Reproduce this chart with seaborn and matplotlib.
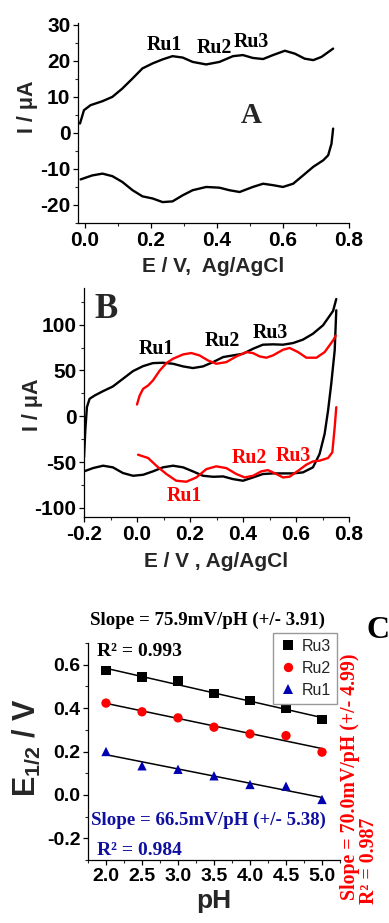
import numpy as np
import pandas as pd
import matplotlib
matplotlib.use("Agg")
import matplotlib.pyplot as plt
from matplotlib.ticker import AutoMinorLocator, MultipleLocator
import seaborn as sns

# ---------------- data ----------------
# Panel A (CV, single scan)
a_fwd_E = [-0.014, -0.002, 0.018, 0.054, 0.084, 0.114, 0.145, 0.175, 0.206, 0.236, 0.266,
           0.297, 0.327, 0.368, 0.408, 0.449, 0.479, 0.509, 0.540, 0.570, 0.606, 0.636,
           0.666, 0.692, 0.717, 0.752]
a_fwd_I = [2.6, 6.3, 7.7, 8.8, 10.0, 12.3, 15.1, 17.9, 19.3, 20.4, 21.3,
           20.9, 19.7, 19.0, 19.7, 21.3, 21.6, 20.8, 20.5, 21.6, 22.8, 22.0,
           20.6, 20.2, 21.1, 23.4]
a_rev_E = [0.752, 0.747, 0.737, 0.722, 0.692, 0.661, 0.631, 0.600, 0.570, 0.540, 0.509,
           0.469, 0.438, 0.408, 0.368, 0.327, 0.297, 0.266, 0.236, 0.206, 0.175, 0.145,
           0.114, 0.084, 0.054, 0.023, -0.012]
a_rev_I = [1.2, -3.0, -6.2, -7.6, -9.4, -11.8, -14.1, -15.0, -14.5, -14.1, -15.0,
           -16.4, -15.9, -15.2, -15.0, -15.9, -17.3, -19.0, -19.2, -18.2, -17.6, -15.9,
           -13.6, -12.0, -11.3, -11.8, -12.9]

# Panel B (black: wide window, red: narrow window)
b_blk_fwd_E = [-0.200, -0.195, -0.189, -0.179, -0.160, -0.128, -0.091, -0.053, -0.015, 0.023,
               0.060, 0.098, 0.136, 0.174, 0.211, 0.249, 0.287, 0.325, 0.362, 0.400, 0.438,
               0.475, 0.513, 0.551, 0.589, 0.626, 0.664, 0.702, 0.740, 0.752]
b_blk_fwd_I = [-45.0, -15.0, 9.9, 19.0, 22.6, 27.4, 32.5, 40.9, 49.3, 54.7,
               58.0, 58.4, 57.3, 54.4, 52.6, 54.4, 59.1, 64.6, 66.4, 68.2, 73.7,
               78.1, 78.5, 78.1, 79.9, 83.6, 90.1, 99.3, 115.0, 128.0]
b_blk_rev_E = [0.752, 0.746, 0.733, 0.721, 0.708, 0.689, 0.664, 0.626, 0.589, 0.551, 0.513,
               0.475, 0.438, 0.400, 0.362, 0.325, 0.287, 0.249, 0.211, 0.174, 0.136, 0.098,
               0.060, 0.023, -0.015, -0.053, -0.091, -0.128, -0.166, -0.200]
b_blk_rev_I = [115.7, 71.9, 35.4, 6.2, -19.3, -41.2, -55.8, -61.3, -62.4, -62.4, -62.4,
               -63.1, -66.8, -70.4, -68.6, -65.7, -66.1, -65.0, -60.2, -55.8, -54.0, -55.8,
               -60.2, -63.9, -65.0, -62.0, -55.8, -54.0, -56.6, -60.2]
b_red_fwd_E = [0.000, 0.010, 0.023, 0.042, 0.060, 0.086, 0.111, 0.136, 0.174, 0.205, 0.236,
               0.268, 0.299, 0.337, 0.375, 0.413, 0.438, 0.463, 0.488, 0.513, 0.551, 0.576,
               0.608, 0.639, 0.677, 0.708, 0.740, 0.750]
b_red_fwd_I = [12.8, 22.6, 29.9, 33.6, 39.0, 50.0, 58.0, 62.8, 67.5, 69.0, 66.4,
               60.9, 57.3, 59.1, 65.3, 70.0, 68.9, 65.3, 63.9, 66.4, 72.6, 74.5,
               70.0, 63.9, 63.9, 70.0, 82.8, 88.0]
b_red_rev_E = [0.752, 0.746, 0.737, 0.721, 0.689, 0.664, 0.639, 0.608, 0.576, 0.551, 0.526,
               0.494, 0.469, 0.438, 0.406, 0.375, 0.337, 0.299, 0.262, 0.224, 0.186, 0.148,
               0.111, 0.073, 0.042, 0.004]
b_red_rev_I = [9.9, -12.0, -39.4, -45.6, -48.5, -49.3, -52.9, -59.5, -66.0, -66.8, -63.1,
               -58.8, -60.2, -65.0, -66.8, -63.1, -56.6, -54.7, -57.7, -66.8, -71.5, -70.4,
               -63.1, -54.0, -45.6, -42.0]

# Panel C (E1/2 vs pH)
ph_values = [2.0, 2.5, 3.0, 3.5, 4.0, 4.5, 5.0]
ru3_E = [0.574, 0.543, 0.525, 0.466, 0.435, 0.400, 0.346]
ru2_E = [0.423, 0.383, 0.355, 0.312, 0.281, 0.273, 0.197]
ru1_E = [0.200, 0.134, 0.118, 0.088, 0.048, 0.040, -0.021]
series_names = ["Ru3", "Ru2", "Ru1"]

# ---------------- style ----------------
sns.set_style("ticks")
plt.rcParams["font.family"] = ["Liberation Sans", "DejaVu Sans"]
plt.rcParams["axes.unicode_minus"] = False
plt.rcParams["mathtext.fontset"] = "custom"
plt.rcParams["mathtext.rm"] = "Liberation Sans:bold"
plt.rcParams["mathtext.it"] = "Liberation Sans:italic:bold"
plt.rcParams["mathtext.bf"] = "Liberation Sans:bold"
plt.rcParams["axes.linewidth"] = 0.9
plt.rcParams["xtick.direction"] = "out"
plt.rcParams["ytick.direction"] = "out"
plt.rcParams["xtick.major.size"] = 3.5
plt.rcParams["ytick.major.size"] = 3.5
plt.rcParams["xtick.minor.size"] = 2.0
plt.rcParams["ytick.minor.size"] = 2.0
plt.rcParams["xtick.major.width"] = 0.9
plt.rcParams["ytick.major.width"] = 0.9
plt.rcParams["xtick.minor.width"] = 0.8
plt.rcParams["ytick.minor.width"] = 0.8

W, H = 389, 923
fig = plt.figure(figsize=(W / 100, H / 100), dpi=100)


def box(l, t, r, b):
    return [l / W, 1 - b / H, (r - l) / W, (b - t) / H]


def fx(px):
    return px / W


def fy(py):
    return 1 - py / H


SERIF = ["Liberation Serif", "DejaVu Serif"]
SANS = ["Liberation Sans", "DejaVu Sans"]


def style_ticks(ax, size):
    for lab in ax.get_xticklabels() + ax.get_yticklabels():
        lab.set_fontweight("bold")
        lab.set_fontsize(size)
        lab.set_family(SANS)
    ax.tick_params(axis="both", which="major", pad=2, colors="black")
    for sp in ax.spines.values():
        sp.set_color("black")


def cv_line(ax, E, I, color):
    df = pd.DataFrame({"E": E, "I": I})
    sns.lineplot(data=df, x="E", y="I", sort=False, estimator=None, color=color,
                 lw=1.7, ax=ax)


# ---------------- Panel A ----------------
axA = fig.add_axes(box(78, 23, 349, 223))
cv_line(axA, a_fwd_E, a_fwd_I, "black")
cv_line(axA, a_rev_E, a_rev_I, "black")
axA.set_xlim(-0.02, 0.8)
axA.set_ylim(-25, 30.5)
axA.xaxis.set_major_locator(MultipleLocator(0.2))
axA.xaxis.set_minor_locator(AutoMinorLocator(2))
axA.yaxis.set_major_locator(MultipleLocator(10))
axA.yaxis.set_minor_locator(AutoMinorLocator(2))
sns.despine(ax=axA)
axA.set_xlabel("E / V,  Ag/AgCl", fontsize=15, fontweight="bold", labelpad=5)
axA.set_ylabel("I / μA", fontsize=15.5, fontweight="bold")
axA.yaxis.set_label_coords(-0.148, 0.58)
style_ticks(axA, 15)
for txt, x, y in [("Ru1", 0.240, 24.4), ("Ru2", 0.393, 23.7), ("Ru3", 0.503, 25.3)]:
    axA.text(x, y, txt, ha="center", va="center", fontsize=14.2, fontweight="bold",
             family=SERIF, color="black")
fig.text(fx(251), fy(116), "A", ha="center", va="center", fontsize=21,
         fontweight="bold", family=SERIF)

# ---------------- Panel B ----------------
axB = fig.add_axes(box(84, 288, 349, 517))
cv_line(axB, b_blk_fwd_E, b_blk_fwd_I, "black")
cv_line(axB, b_blk_rev_E, b_blk_rev_I, "black")
cv_line(axB, b_red_fwd_E, b_red_fwd_I, "#ff0000")
cv_line(axB, b_red_rev_E, b_red_rev_I, "#ff0000")
axB.set_xlim(-0.2, 0.8)
axB.set_ylim(-110, 140)
axB.xaxis.set_major_locator(MultipleLocator(0.2))
axB.xaxis.set_minor_locator(AutoMinorLocator(2))
axB.yaxis.set_major_locator(MultipleLocator(50))
axB.yaxis.set_minor_locator(AutoMinorLocator(2))
sns.despine(ax=axB)
axB.set_xlabel("E / V , Ag/AgCl", fontsize=15, fontweight="bold", labelpad=6)
axB.set_ylabel("I / μA", fontsize=15.5, fontweight="bold")
axB.yaxis.set_label_coords(-0.155, 0.49)
style_ticks(axB, 15)
for txt, x, y, c in [("Ru1", 0.074, 72.9, "black"), ("Ru2", 0.323, 81.7, "black"),
                     ("Ru3", 0.504, 90.5, "black"), ("Ru2", 0.424, -45.2, "#ff0000"),
                     ("Ru3", 0.591, -43.3, "#ff0000"), ("Ru1", 0.177, -86.6, "#ff0000")]:
    axB.text(x, y, txt, ha="center", va="center", fontsize=14.2, fontweight="bold",
             family=SERIF, color=c)
fig.text(fx(106), fy(310), "B", ha="center", va="center", fontsize=25,
         fontweight="bold", family=SERIF)

# ---------------- Panel C ----------------
axC = fig.add_axes(box(88, 643, 340, 860))
dfC = pd.DataFrame({
    "pH": ph_values * 3,
    "E": ru3_E + ru2_E + ru1_E,
    "series": [series_names[0]] * 7 + [series_names[1]] * 7 + [series_names[2]] * 7,
})
palette = {"Ru3": "black", "Ru2": "#ff0000", "Ru1": "#0000b0"}
markers = {"Ru3": "s", "Ru2": "o", "Ru1": "^"}
for name, vals in zip(series_names, [ru3_E, ru2_E, ru1_E]):
    sns.regplot(x=ph_values, y=vals, scatter=False, ci=None, color="black",
                line_kws=dict(lw=1.1), ax=axC, truncate=True)
sns.scatterplot(data=dfC, x="pH", y="E", hue="series", style="series",
                hue_order=series_names, style_order=series_names,
                palette=palette, markers=markers, s=45, linewidth=0, ax=axC, zorder=3)
axC.set_xlim(1.75, 5.25)
axC.set_ylim(-0.3, 0.7)
axC.xaxis.set_major_locator(MultipleLocator(0.5))
axC.xaxis.set_minor_locator(AutoMinorLocator(2))
axC.yaxis.set_major_locator(MultipleLocator(0.2))
axC.yaxis.set_minor_locator(AutoMinorLocator(2))
sns.despine(ax=axC)
axC.set_xlabel("pH", fontsize=19, fontweight="bold", labelpad=3)
axC.set_ylabel(r"E$_{\mathit{1/2}}$ / V", fontsize=22, fontweight="bold")
axC.yaxis.set_label_coords(-0.184, 0.52)
style_ticks(axC, 14)
handles, labels = axC.get_legend_handles_labels()
leg = axC.legend(handles, labels, loc="upper right", bbox_to_anchor=(fx(337), fy(633)),
                 bbox_transform=fig.transFigure, borderaxespad=0, frameon=True,
                 fancybox=False, edgecolor="#999999", framealpha=1,
                 prop=dict(family=SANS, size=11.5), handletextpad=0.3,
                 borderpad=0.35, labelspacing=0.45, handlelength=1.2, markerscale=1.0)
leg.get_frame().set_linewidth(1.0)

fig.text(fx(207), fy(620), "Slope = 75.9mV/pH (+/- 3.91)", ha="center", va="center",
         fontsize=13.6, fontweight="bold", family=SERIF, color="black")
axC.text(2.46, 0.661, "R² = 0.993", ha="center", va="center", fontsize=14,
         fontweight="bold", family=SERIF, color="black")
axC.text(3.42, -0.115, "Slope = 66.5mV/pH (+/- 5.38)", ha="center", va="center",
         fontsize=13.6, fontweight="bold", family=SERIF, color="#1010a0")
axC.text(2.47, -0.254, "R² = 0.984", ha="center", va="center", fontsize=14,
         fontweight="bold", family=SERIF, color="#1010a0")
fig.text(fx(350), fy(777), "Slope = 70.0mV/pH (+/- 4.99)", ha="center", va="center",
         rotation=90, fontsize=14.3, fontweight="bold", family=SERIF, color="#ff0000")
fig.text(fx(369), fy(861), "R² = 0.987", ha="center", va="center",
         rotation=90, fontsize=14.3, fontweight="bold", family=SERIF, color="#ff0000")
fig.text(fx(366), fy(630), "C", ha="left", va="center", fontsize=23,
         fontweight="bold", family=SERIF, color="black")

fig.savefig("out.png", dpi=100)
